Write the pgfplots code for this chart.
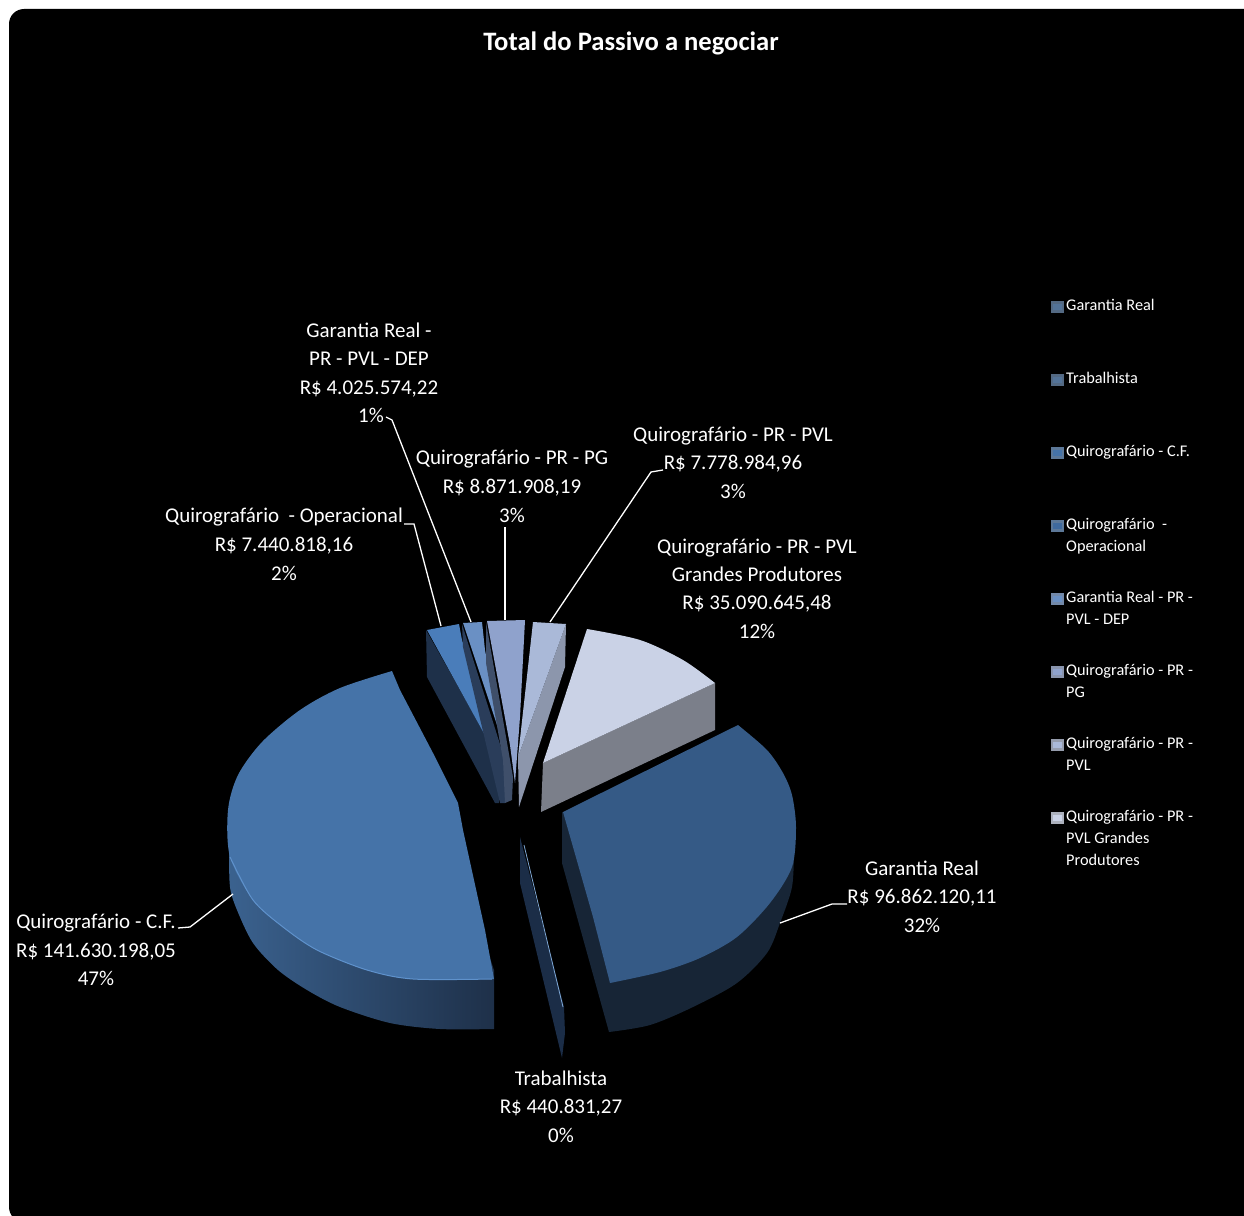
\documentclass[border=0pt]{standalone}
\usepackage{pgfplots}
\pgfplotsset{compat=1.18}
\usepackage{fontspec}
\setmainfont{Carlito}
\definecolor{cfT}{HTML}{4573A8}
\definecolor{cfE}{HTML}{5F92CC}
\definecolor{grT}{HTML}{355A86}
\definecolor{grS}{HTML}{172536}
\definecolor{trS}{HTML}{1B2D47}
\definecolor{opT}{HTML}{4A7DBA}
\definecolor{opS}{HTML}{1E3049}
\definecolor{deT}{HTML}{6A90C4}
\definecolor{deS}{HTML}{2A3D5A}
\definecolor{pgT}{HTML}{8FA2CC}
\definecolor{pgS}{HTML}{3F4F6A}
\definecolor{pvT}{HTML}{AAB9D8}
\definecolor{pvS}{HTML}{8C96AC}
\definecolor{gpT}{HTML}{CAD2E6}
\definecolor{gpS}{HTML}{7B7F8A}
\newcommand{\lab}[3]{\node[text=white,font=\fontsize{21}{24}\selectfont,anchor=mid,inner sep=0pt,yshift=-5pt] at (axis cs:#1,#2) {#3};}
\newcommand{\leg}[2]{\node[text=white,font=\fontsize{16.3}{18}\selectfont,anchor=mid west,inner sep=0pt,yshift=-3pt] at (axis cs:1066,#1) {#2};}
\newcommand{\legmark}[6]{%
\addplot[fill=#6,draw=none] coordinates {(1051,#1) (1064,#1) (1064,#4) (1051,#4)} --cycle;
\addplot[fill=#5,draw=none] coordinates {(1053,#2) (1062,#2) (1062,#3) (1053,#3)} --cycle;}
\newcommand{\lead}[1]{\addplot[white,line width=1.3pt] coordinates {#1};}
\begin{document}
\begin{tikzpicture}
\begin{axis}[scale only axis,width=1244pt,height=1215pt,xmin=0,xmax=1244,ymin=0,ymax=1215,y dir=reverse,hide axis,clip=true]
% page and panel
\addplot[fill=white,draw=none] coordinates {(0,0) (1244,0) (1244,1215) (0,1215)} --cycle;
\addplot[fill=black,draw=none,rounded corners=15pt] coordinates {(9,9) (1264,9) (1264,1222) (9,1222)} --cycle;
% Quirografario C.F. side
\addplot[smooth,draw=none,left color=cfT!85!black,right color=opS,shading=axis,shading angle=90] coordinates {(229,850) (230,887) (237,910) (253,943) (278,970) (307,990) (340,1007) (390,1023) (440,1029) (494,1029)} -- (axis cs:494,970) -- (axis cs:470,900) -- cycle;
% top
\addplot[smooth,fill=cfT,draw=none] coordinates {(392,671) (340,688) (300,710) (262,742) (238,775) (228,810) (230,857) (253,900) (283,927) (317,950) (367,970) (413,979) (494,979)} -- (axis cs:485,930) -- (axis cs:463,830) -- (axis cs:458,803) -- (axis cs:433,753) -- (axis cs:400,690) -- cycle;
\addplot[smooth,cfE,line width=1pt] coordinates {(230,857) (253,900) (283,927) (317,950) (367,970) (413,979) (492,979)};
% Garantia Real
\addplot[smooth,fill=grS,draw=none] coordinates {(794,850) (792,887) (780,923) (767,953) (737,983) (693,1007) (650,1025) (609,1032)} -- (axis cs:562,863) -- (axis cs:562,812) -- (axis cs:650,850) -- cycle;
\addplot[smooth,fill=grT,draw=none] coordinates {(738,725) (767,750) (783,773) (792,795) (796,827) (792,867) (770,903) (737,937) (700,958) (660,972) (610,983)} -- (axis cs:593,917) -- (axis cs:563,812) -- cycle;
% Trabalhista
\addplot[fill=trS,draw=none] coordinates {(520,837) (520,883) (562,1058) (565,1033) (564,1007)} --cycle;
\addplot[cfE!80!white,line width=.8pt] coordinates {(524,845) (563,1007)};
% Operacional
\addplot[fill=opS,draw=none] coordinates {(426,630) (427,677) (495,803) (499,803) (498,757)} --cycle;
\addplot[fill=opT,draw=none] coordinates {(427,630) (459,624) (462,640) (497,757)} --cycle;
% Garantia Real PR PVL DEP
\addplot[fill=deS,draw=none] coordinates {(462,624) (463,647) (500,803) (505,803) (505,760)} --cycle;
\addplot[fill=deT,draw=none] coordinates {(463,623) (482,622) (485,650) (503,743)} --cycle;
% PG
\addplot[fill=pgS,draw=none] coordinates {(486,622) (486,663) (503,760) (505,803) (512,800) (513,777)} --cycle;
\addplot[fill=pgT,draw=none] coordinates {(487,621) (525,620) (520,717) (515,783) (510,745)} --cycle;
% PVL
\addplot[fill=pvS,draw=none] coordinates {(566,624) (565,667) (519,807) (518,757)} --cycle;
\addplot[fill=pvT,draw=none] coordinates {(533,622) (566,624) (518,757)} --cycle;
% Grandes produtores
\addplot[fill=gpS,draw=none] coordinates {(543,763) (715,683) (715,730) (541,812)} --cycle;
\addplot[smooth,fill=gpT,draw=none] coordinates {(587,629) (640,640) (683,660) (715,683)} -- (axis cs:543,763) --cycle;
% leaders
\lead{(178,928) (190,927) (233,894)}
\lead{(780,923) (832,904) (847,904)}
\lead{(404,524) (414,524) (441,626)}
\lead{(386,417) (392,420) (471,622)}
\lead{(505,527) (505,620)}
\lead{(663,470) (651,472) (550,622)}
% legend marks
\legmark{301}{304}{310}{313}{grT!85!white}{grT!60!gray}
\legmark{374}{377}{383}{386}{grT!85!white}{grT!60!gray}
\legmark{447}{450}{456}{459}{cfT}{cfT!60!gray}
\legmark{520}{523}{529}{532}{opT!85!black}{cfT!60!gray}
\legmark{593}{596}{602}{605}{deT}{deT!60!gray}
\legmark{666}{669}{675}{678}{pgT}{pgT!60!gray}
\legmark{739}{742}{748}{751}{pvT}{pvT!50!gray}
\legmark{812}{815}{821}{824}{gpT}{gpT!60!gray}
% title
\node[text=white,font=\fontsize{26.6}{32}\selectfont\bfseries,anchor=mid,inner sep=0pt,yshift=-7pt] at (axis cs:631,41) {Total do Passivo a negociar};
% labels
\lab{369}{330}{Garantia Real -}
\lab{369}{358}{PR - PVL - DEP}
\lab{369}{387}{R\$ 4.025.574,22}
\lab{371}{415}{1\%}
\lab{284}{515}{Quirografário\ \ - Operacional}
\lab{284}{544}{R\$ 7.440.818,16}
\lab{284}{573}{2\%}
\lab{512}{457}{Quirografário - PR - PG}
\lab{512}{486}{R\$ 8.871.908,19}
\lab{512}{515}{3\%}
\lab{733}{434}{Quirografário - PR - PVL}
\lab{733}{462}{R\$ 7.778.984,96}
\lab{733}{491}{3\%}
\lab{757}{546}{Quirografário - PR - PVL}
\lab{757}{574}{Grandes Produtores}
\lab{757}{602}{R\$ 35.090.645,48}
\lab{757}{631}{12\%}
\lab{922}{868}{Garantia Real}
\lab{922}{896}{R\$ 96.862.120,11}
\lab{922}{925}{32\%}
\lab{96}{921}{Quirografário - C.F.}
\lab{96}{950}{R\$ 141.630.198,05}
\lab{96}{978}{47\%}
\lab{561}{1078}{Trabalhista}
\lab{561}{1106}{R\$ 440.831,27}
\lab{561}{1135}{0\%}
% legend
\leg{305}{Garantia Real}
\leg{378}{Trabalhista}
\leg{451}{Quirografário - C.F.}
\leg{524}{Quirografário\ \ -}
\leg{546}{Operacional}
\leg{597}{Garantia Real - PR -}
\leg{619}{PVL - DEP}
\leg{670}{Quirografário - PR -}
\leg{692}{PG}
\leg{743}{Quirografário - PR -}
\leg{765}{PVL}
\leg{816}{Quirografário - PR -}
\leg{838}{PVL Grandes}
\leg{860}{Produtores}
\end{axis}
\end{tikzpicture}
\end{document}
